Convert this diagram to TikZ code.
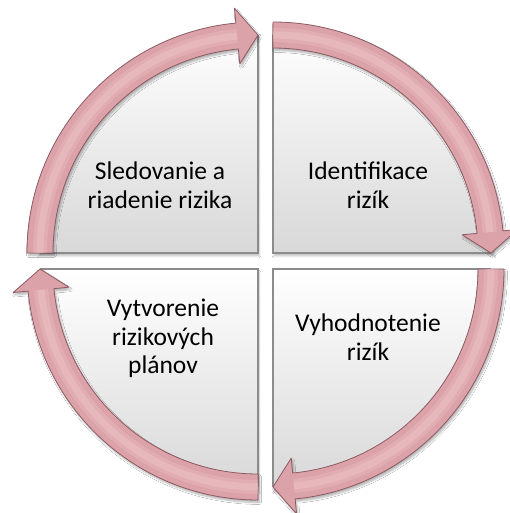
\documentclass[tikz,border=0pt]{standalone}
\usepackage{fontspec}
\setmainfont{Carlito}
\usetikzlibrary{calc,shadows.blur}

\definecolor{ringfill}{HTML}{DBA3A9}
\definecolor{ringlight}{HTML}{EFC6CA}
\definecolor{ringedge}{HTML}{8E5A63}
\definecolor{segedge}{HTML}{8C8C8C}
\definecolor{segbottom}{HTML}{D8D8D8}

\tikzset{
  segment/.style={top color=white, bottom color=segbottom, draw=none,
    blur shadow={shadow xshift=1pt, shadow yshift=-3pt, shadow blur steps=6, shadow opacity=25}},
  segline/.style={draw=segedge, line width=1.3pt},
  arrowbody/.style={fill=ringfill, draw=ringedge, line width=0.8pt, line join=round,
    blur shadow={shadow xshift=1.5pt, shadow yshift=-2.5pt, shadow blur steps=6, shadow opacity=30}},
  arrowshine/.style={draw=ringlight, line cap=butt},
  steptext/.style={font=\fontsize{25.5}{28.5}\selectfont, align=center, inner sep=0pt, text=black}
}

% quarter disc: corner, first edge angle, second edge angle
\newcommand\quadpie[3]{%
  \path[segment] (#1) -- ($(#1)+(#2:220pt)$) arc[start angle=#2, end angle=#3, radius=220pt] -- cycle;
  \draw[segline] ($(#1)+(#2:218pt)$) -- (#1) -- ($(#1)+(#3:218pt)$);
}

% curved clockwise arrow: corner, tail angle, tip angle
\newcommand\ringarrow[3]{%
  \pgfmathsetmacro\headbase{#3+5.5}
  \path[arrowbody]
    ($(#1)+(#2:231pt)$) arc[start angle=#2, end angle=\headbase, radius=231pt]
    -- ($(#1)+(\headbase:246pt)$) -- ($(#1)+(#3:218pt)$) -- ($(#1)+(\headbase:190pt)$)
    -- ($(#1)+(\headbase:205pt)$) arc[start angle=\headbase, end angle=#2, radius=205pt] -- cycle;
  \draw[arrowshine, line width=14pt, opacity=.3] ($(#1)+(#2:218pt)$) arc[start angle=#2, end angle=\headbase, radius=218pt];
  \draw[arrowshine, line width=7pt, opacity=.4] ($(#1)+(#2:218pt)$) arc[start angle=#2, end angle=\headbase, radius=218pt];
}

\begin{document}
\begin{tikzpicture}[x=1pt, y=1pt]
  \useasboundingbox (0,0) rectangle (510,513);
  \clip (0,0) rectangle (510,513);
  \fill[white] (0,0) rectangle (510,513);

  % corners of the four quarters
  \coordinate (tl) at (258,260);
  \coordinate (tr) at (273,260);
  \coordinate (br) at (273,244);
  \coordinate (bl) at (258,244);

  % quarter discs
  \quadpie{tl}{180}{90}
  \quadpie{tr}{90}{0}
  \quadpie{br}{0}{-90}
  \quadpie{bl}{270}{180}

  % cycle arrows
  \ringarrow{tl}{180}{90}
  \ringarrow{tr}{90}{0}
  \ringarrow{br}{0}{-90}
  \ringarrow{bl}{270}{180}

  % step labels
  \node[steptext] (monitor) at (160,328) {Sledovanie a\\riadenie rizika};
  \node[steptext] (identify) at (368,328) {Identifikace\\rizík};
  \node[steptext] (assess) at (368,176) {Vyhodnotenie\\rizík};
  \node[steptext] (plan) at (163,174.5) {Vytvorenie\\rizikových\\plánov};
\end{tikzpicture}
\end{document}
